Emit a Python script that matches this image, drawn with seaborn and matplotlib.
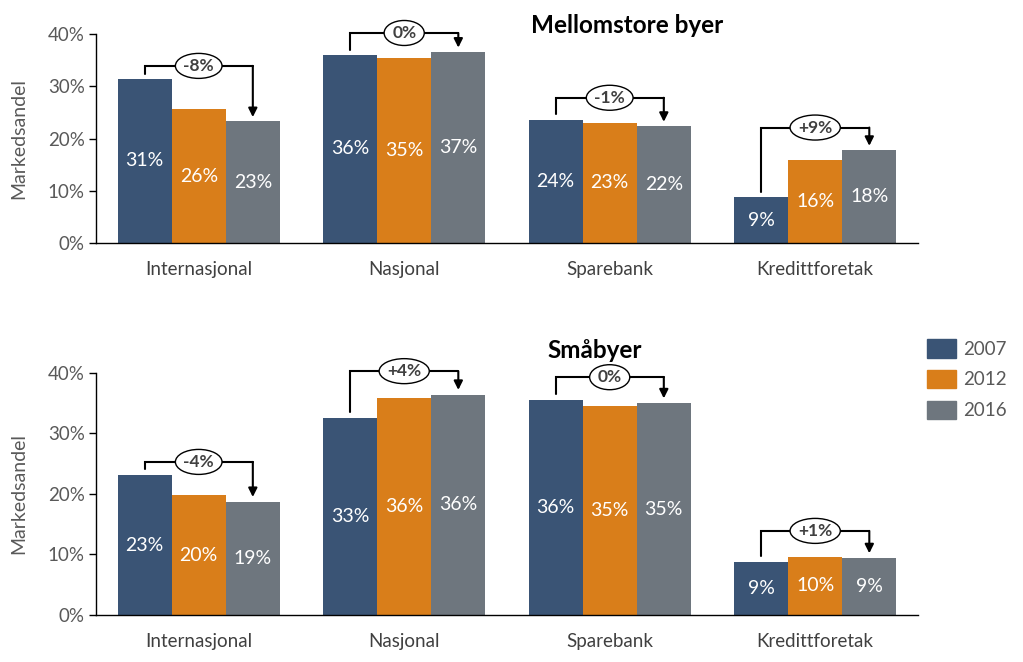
import pandas as pd
import matplotlib.pyplot as plt
import matplotlib.transforms as mtransforms
from matplotlib.patches import Ellipse
import seaborn as sns

#_____1. DATA_____
kategorier = ['Internasjonal', 'Nasjonal', 'Sparebank', 'Kredittforetak']
aar = ['2007', '2012', '2016']

# Mellomstore byer (andel i %)
mellom_2007 = [31.4, 36.0, 23.6, 8.8]
mellom_2012 = [25.6, 35.4, 23.0, 15.9]
mellom_2016 = [23.3, 36.6, 22.4, 17.8]
mellom_endring = ['-8%', '0%', '-1%', '+9%']

# Småbyer (andel i %)
smaa_2007 = [23.1, 32.6, 35.6, 8.8]
smaa_2012 = [19.8, 35.9, 34.6, 9.6]
smaa_2016 = [18.7, 36.4, 35.0, 9.4]
smaa_endring = ['-4%', '+4%', '0%', '+1%']

farger = ['#3A5475', '#D97E1A', '#6E767E']
TEKST = '#595959'

#_____2. STYLE_____
sns.set_style('white')
plt.rcParams['font.family'] = ['Lato', 'DejaVu Sans']

fig = plt.figure(figsize=(10.23, 6.62), dpi=100)
renderer = fig.canvas.get_renderer()


def lag_df(v07, v12, v16):
    rows = []
    for serie, a in zip([v07, v12, v16], aar):
        for k, v in zip(kategorier, serie):
            rows.append({'kategori': k, 'aar': a, 'andel': v})
    return pd.DataFrame(rows)


def tegn_panel(ax, df, endring, bracket_pad):
    sns.barplot(data=df, x='kategori', y='andel', hue='aar', palette=farger,
                width=0.79, saturation=1, ax=ax, legend=False, linewidth=0)
    for cont in ax.containers:
        labels = [f"{round(b.get_height()):.0f}%" for b in cont]
        ax.bar_label(cont, labels=labels, label_type='center',
                     color='white', fontsize=14)
    ax.set_ylim(0, 40)
    ax.set_xlim(-0.5, 3.5)
    ax.set_yticks([0, 10, 20, 30, 40])
    ax.set_yticklabels([f"{t}%" for t in [0, 10, 20, 30, 40]])
    ax.tick_params(axis='y', length=5, width=1, color='black',
                   labelcolor=TEKST, labelsize=13.5, left=True, pad=3)
    ax.tick_params(axis='x', length=0, labelcolor='#404040', labelsize=13.5, pad=13)
    ax.set_xlabel('')
    ax.set_ylabel('Markedsandel', color=TEKST, fontsize=14, labelpad=15)
    sns.despine(ax=ax)
    for s in ['left', 'bottom']:
        ax.spines[s].set_color('black')
        ax.spines[s].set_linewidth(1)

    # brackets med pil fra 2007 til 2016
    b07 = list(ax.containers[0])
    b16 = list(ax.containers[2])
    for i in range(len(kategorier)):
        x1 = b07[i].get_x() + b07[i].get_width() / 2
        x2 = b16[i].get_x() + b16[i].get_width() / 2
        h1 = b07[i].get_height()
        h2 = b16[i].get_height()
        top = max(c[i].get_height() for c in ax.containers) + bracket_pad[i]
        ax.plot([x1, x1, x2], [h1 + 1.0, top, top], color='black', lw=1.5,
                clip_on=False, solid_joinstyle='miter', zorder=4)
        ax.annotate('', xy=(x2, h2 + 0.8), xytext=(x2, top),
                    arrowprops=dict(arrowstyle='-|>', color='black', lw=1.5,
                                    shrinkA=0, shrinkB=0, mutation_scale=13),
                    annotation_clip=False, zorder=4)
        t = ax.text(i, top, endring[i], ha='center', va='center', fontsize=12.5,
                    fontweight='bold', color='#404040', zorder=6)
        bw = t.get_window_extent(renderer).width
        # ellipse rundt teksten (størrelse i tommer, sentrert i datapunktet)
        trans = fig.dpi_scale_trans + mtransforms.ScaledTranslation(i, top, ax.transData)
        ax.add_patch(Ellipse((0, 0), (bw + 16) / 100, 0.25, transform=trans,
                             fc='white', ec='black', lw=1, zorder=5, clip_on=False))


#_____3. FIGURE_____
ax1 = fig.add_axes([0.0938, 0.6329, 0.8035, 0.3157])
ax2 = fig.add_axes([0.0938, 0.0710, 0.8035, 0.3656])

tegn_panel(ax1, lag_df(mellom_2007, mellom_2012, mellom_2016), mellom_endring,
           [2.5, 3.6, 4.2, 4.3])
tegn_panel(ax2, lag_df(smaa_2007, smaa_2012, smaa_2016), smaa_endring,
           [2.2, 3.9, 3.7, 4.3])

fig.text(0.6135, 0.962, 'Mellomstore byer', ha='center', va='center',
         fontsize=17.5, fontweight='bold', color='black')
fig.text(0.581, 0.471, 'Småbyer', ha='center', va='center',
         fontsize=17.5, fontweight='bold', color='black')

handles = [plt.Rectangle((0, 0), 1, 1, color=c) for c in farger]
fig.legend(handles, aar, loc='upper left', bbox_to_anchor=(0.906, 0.488),
           frameon=False, fontsize=13.5, labelcolor=TEKST, handlelength=1.55,
           handleheight=1.15, labelspacing=0.65, handletextpad=0.4,
           borderpad=0, borderaxespad=0)

fig.savefig('out.png', dpi=100)
